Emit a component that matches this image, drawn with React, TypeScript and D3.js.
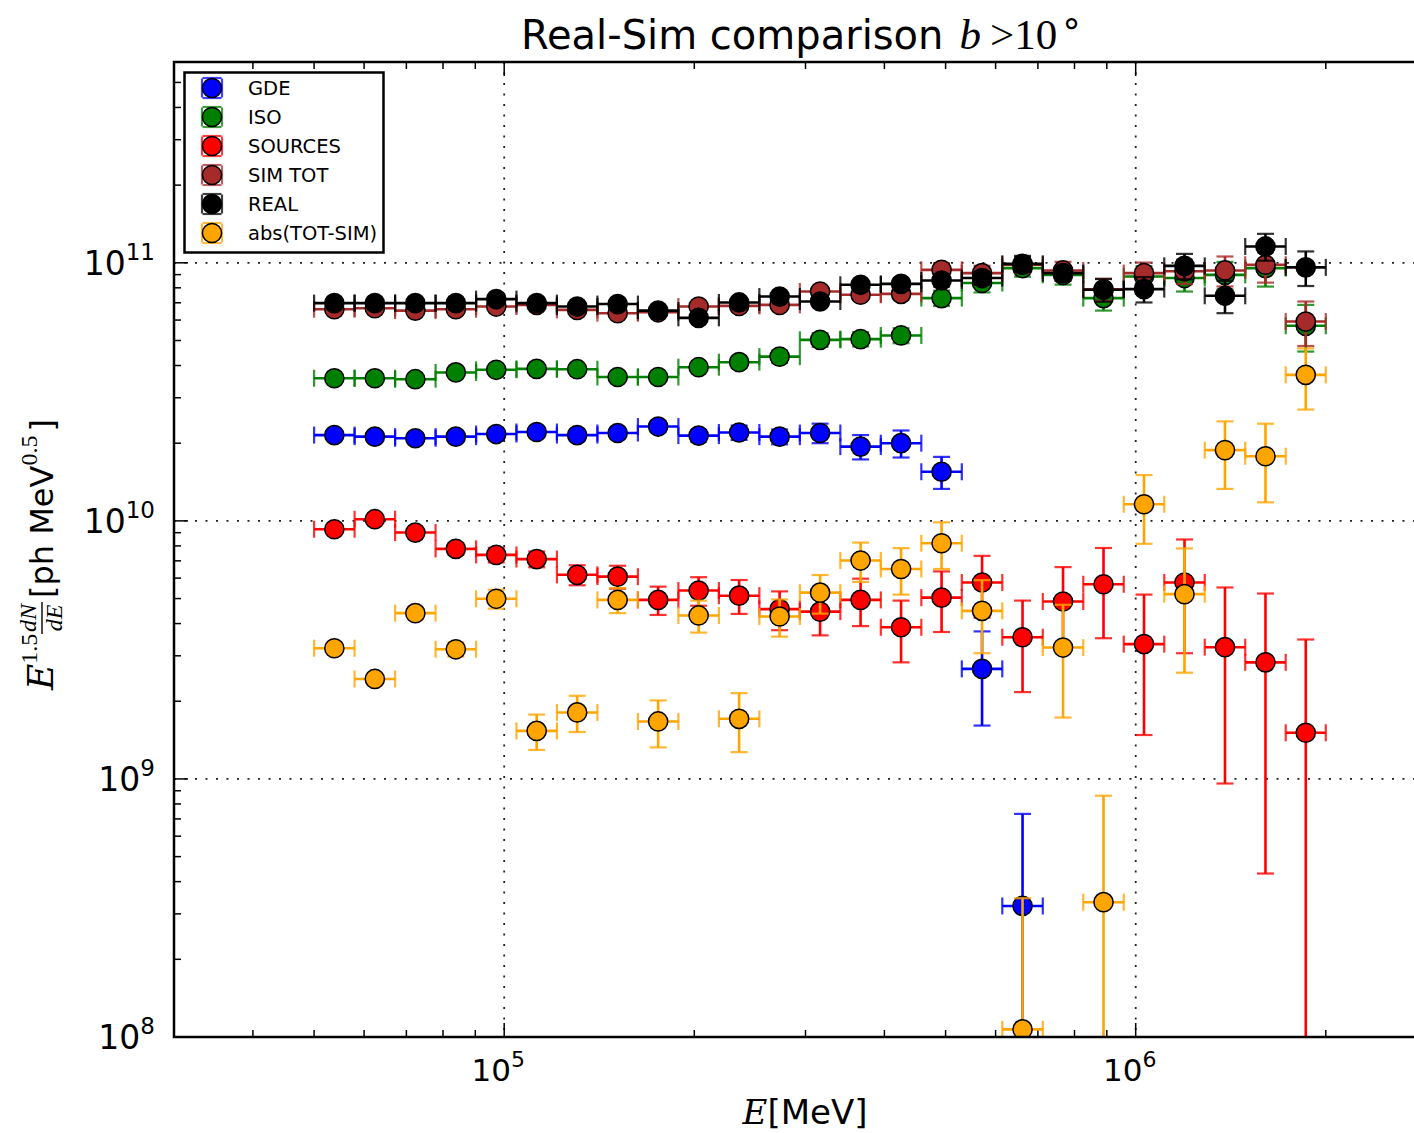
import React from "react";
import * as d3 from "d3";

// Energy bin edges [MeV]: 25 logarithmic bins between 50 GeV and 2 TeV
const BIN_EDGES = [
  50000, 57955, 67177, 77866, 90255, 104563, 121200, 140478, 162824, 188727,
  218752, 253550, 293887, 340641, 394833, 457643, 530447, 614834, 712645,
  826014, 957420, 1109730, 1286270, 1490900, 1728070, 2000000,
];

// E^1.5 dN/dE [ph MeV^0.5] per bin, with symmetric 1-sigma errors
const GDE_FLUX = [
  2.15e10, 2.12e10, 2.09e10, 2.12e10, 2.17e10, 2.21e10, 2.15e10, 2.19e10,
  2.32e10, 2.14e10, 2.2e10, 2.12e10, 2.19e10, 1.94e10, 2.0e10, 1.55e10,
  2.67e9, 3.22e8,
];
const GDE_ERR = [
  0.9e9, 0.9e9, 0.9e9, 0.9e9, 1.0e9, 1.0e9, 1.0e9, 1.0e9, 1.1e9, 1.1e9,
  1.4e9, 1.4e9, 1.9e9, 2.1e9, 2.4e9, 2.2e9, 1.06e9, 4.1e8,
];

const ISO_FLUX = [
  3.57e10, 3.57e10, 3.54e10, 3.76e10, 3.85e10, 3.88e10, 3.87e10, 3.61e10,
  3.61e10, 3.94e10, 4.12e10, 4.33e10, 5.03e10, 5.06e10, 5.23e10, 7.3e10,
  8.35e10, 9.54e10, 8.98e10, 7.3e10, 8.85e10, 8.73e10, 8.98e10, 9.54e10,
  5.7e10,
];
const ISO_ERR = [
  0.7e9, 0.7e9, 0.7e9, 0.8e9, 0.8e9, 0.9e9, 0.9e9, 0.9e9, 1.0e9, 1.1e9,
  2.0e9, 2.4e9, 3.0e9, 3.2e9, 3.5e9, 5.0e9, 6.7e9, 7.0e9, 7.5e9, 7.7e9,
  8.5e9, 9.9e9, 1.1e10, 1.45e10, 1.17e10,
];

const SOURCES_FLUX = [
  9.28e9, 1.015e10, 9.01e9, 7.79e9, 7.38e9, 7.11e9, 6.18e9, 6.08e9, 4.94e9,
  5.37e9, 5.13e9, 4.55e9, 4.45e9, 4.94e9, 3.87e9, 5.04e9, 5.77e9, 3.54e9,
  4.87e9, 5.68e9, 3.33e9, 5.77e9, 3.24e9, 2.83e9, 1.51e9,
];
const SOURCES_ERR = [
  0.3e9, 0.33e9, 0.33e9, 0.4e9, 0.48e9, 0.5e9, 0.55e9, 0.62e9, 0.62e9,
  0.68e9, 0.77e9, 0.78e9, 0.85e9, 1.03e9, 1.04e9, 1.33e9, 1.55e9, 1.37e9,
  1.75e9, 2.17e9, 1.85e9, 2.7e9, 2.28e9, 2.4e9, 1.96e9,
];

const SIMTOT_FLUX = [
  6.61e10, 6.67e10, 6.53e10, 6.61e10, 6.77e10, 6.87e10, 6.57e10, 6.38e10,
  6.43e10, 6.77e10, 6.81e10, 6.87e10, 7.74e10, 7.52e10, 7.58e10, 9.39e10,
  9.12e10, 9.83e10, 9.34e10, 7.9e10, 9.12e10, 9.28e10, 9.34e10, 9.83e10,
  5.92e10,
];
const SIMTOT_ERR = [
  1.3e9, 1.3e9, 1.3e9, 1.3e9, 1.4e9, 1.4e9, 1.4e9, 1.4e9, 1.5e9, 1.6e9,
  2.0e9, 2.4e9, 3.0e9, 3.3e9, 3.6e9, 5.8e9, 6.2e9, 7.0e9, 7.5e9, 7.8e9,
  9.0e9, 1.0e10, 1.24e10, 1.45e10, 1.16e10,
];

const REAL_FLUX = [
  6.98e10, 6.98e10, 6.98e10, 6.98e10, 7.23e10, 6.98e10, 6.77e10, 6.92e10,
  6.53e10, 6.12e10, 7.02e10, 7.4e10, 7.08e10, 8.22e10, 8.29e10, 8.54e10,
  8.73e10, 9.91e10, 9.12e10, 7.86e10, 7.91e10, 9.73e10, 7.45e10, 1.157e11,
  9.6e10,
];
const REAL_ERR = [
  1.5e9, 1.5e9, 1.5e9, 1.6e9, 1.7e9, 1.7e9, 1.8e9, 1.9e9, 2.0e9, 2.1e9,
  2.5e9, 2.8e9, 3.0e9, 3.5e9, 3.8e9, 4.5e9, 5.0e9, 7.3e9, 6.0e9, 7.9e9,
  8.9e9, 1.1e10, 1.07e10, 1.38e10, 1.47e10,
];

const DIFF_FLUX = [
  3.21e9, 2.44e9, 4.39e9, 3.18e9, 4.99e9, 1.535e9, 1.81e9, 4.94e9, 1.67e9,
  4.3e9, 1.71e9, 4.26e9, 5.27e9, 7.02e9, 6.51e9, 8.19e9, 4.48e9, 1.07e8,
  3.23e9, 3.33e8, 1.16e10, 5.2e9, 1.88e10, 1.78e10, 3.68e10,
];
const DIFF_ERR = [
  0.15e9, 0.12e9, 0.22e9, 0.2e9, 0.42e9, 0.24e9, 0.29e9, 0.55e9, 0.345e9,
  0.61e9, 0.44e9, 0.7e9, 0.9e9, 1.22e9, 1.33e9, 1.68e9, 1.41e9, 2.38e8,
  1.5e9, 5.28e8, 3.45e9, 2.62e9, 5.5e9, 6.0e9, 9.8e9,
];

const SERIES_NAMES = ["GDE", "ISO", "SOURCES", "SIM TOT", "REAL", "abs(TOT-SIM)"];
const SERIES_COLORS = ["#0000ff", "#008000", "#ff0000", "#a52a2a", "#000000", "#ffa500"];
const SERIES_VALUES = [GDE_FLUX, ISO_FLUX, SOURCES_FLUX, SIMTOT_FLUX, REAL_FLUX, DIFF_FLUX];
const SERIES_ERRORS = [GDE_ERR, ISO_ERR, SOURCES_ERR, SIMTOT_ERR, REAL_ERR, DIFF_ERR];

const X_MAJOR = [1e5, 1e6];
const X_MAJOR_EXP = ["5", "6"];
const Y_MAJOR = [1e8, 1e9, 1e10, 1e11];
const Y_MAJOR_EXP = ["8", "9", "10", "11"];

export default function App() {
  const W = 1414;
  const H = 1133;
  const L = 174;
  const T = 62;
  const R = 1437;
  const B = 1037;
  const x = d3.scaleLog().domain([3e4, 3e6]).range([L, R]);
  const y = d3.scaleLog().domain([1e8, 6e11]).range([B, T]);
  const CAP = 8.5;
  const MARK_R = 9.6;

  const series = SERIES_NAMES.map((name, k) => ({
    name,
    color: SERIES_COLORS[k],
    values: SERIES_VALUES[k],
    errors: SERIES_ERRORS[k],
  }));

  const yMinor: number[] = [];
  for (let e = 8; e <= 11; e++) {
    for (let m = 2; m <= 9; m++) {
      const v = m * Math.pow(10, e);
      if (v < 6e11) yMinor.push(v);
    }
  }
  const xMinor: number[] = [];
  for (let e = 4; e <= 6; e++) {
    for (let m = 2; m <= 9; m++) {
      const v = m * Math.pow(10, e);
      if (v > 3e4 && v < 3e6) xMinor.push(v);
    }
  }

  const tickStroke = { stroke: "#000", strokeWidth: 1.5 };
  const gridStyle = { stroke: "#222", strokeWidth: 1.8, strokeDasharray: "2,8.5" };

  return (
    <svg
      width={W}
      height={H}
      style={{ position: "absolute", left: 0, top: 0, background: "#fff" }}
      xmlns="http://www.w3.org/2000/svg"
    >
      <defs>
        <clipPath id="plot-area">
          <rect x={L} y={T} width={R - L} height={B - T} />
        </clipPath>
      </defs>
      <rect x={0} y={0} width={W} height={H} fill="#fff" />

      {/* grid */}
      {X_MAJOR.map((v) => (
        <line key={"gx" + v} x1={x(v)} x2={x(v)} y1={T} y2={B} {...gridStyle} />
      ))}
      {Y_MAJOR.slice(1).map((v) => (
        <line key={"gy" + v} x1={L} x2={R} y1={y(v)} y2={y(v)} {...gridStyle} />
      ))}

      {/* ticks (inside, on left / bottom / top) */}
      {Y_MAJOR.map((v) => (
        <line key={"ty" + v} x1={L} x2={L + 14} y1={y(v)} y2={y(v)} {...tickStroke} />
      ))}
      {yMinor.map((v) => (
        <line key={"tym" + v} x1={L} x2={L + 7} y1={y(v)} y2={y(v)} {...tickStroke} />
      ))}
      {X_MAJOR.map((v) => (
        <g key={"tx" + v}>
          <line x1={x(v)} x2={x(v)} y1={B} y2={B - 14} {...tickStroke} />
          <line x1={x(v)} x2={x(v)} y1={T} y2={T + 14} {...tickStroke} />
        </g>
      ))}
      {xMinor.map((v) => (
        <g key={"txm" + v}>
          <line x1={x(v)} x2={x(v)} y1={B} y2={B - 7} {...tickStroke} />
          <line x1={x(v)} x2={x(v)} y1={T} y2={T + 7} {...tickStroke} />
        </g>
      ))}

      {/* data */}
      <g clipPath="url(#plot-area)">
        {series.map((s) => (
          <g key={s.name}>
            {s.values.map((v, i) => {
              const lo = BIN_EDGES[i];
              const hi = BIN_EDGES[i + 1];
              const cx = x(Math.sqrt(lo * hi));
              const cy = y(v);
              const err = s.errors[i];
              const yTop = y(v + err);
              const lowOk = v - err > 0;
              const yBot = lowOk ? y(v - err) : B + 40;
              return (
                <g key={i}>
                  <line x1={x(lo)} x2={x(hi)} y1={cy} y2={cy} stroke={s.color} strokeWidth={2.6} />
                  <line x1={cx} x2={cx} y1={yTop} y2={yBot} stroke={s.color} strokeWidth={2.6} />
                  <g stroke={s.color} strokeWidth={2.2} opacity={0.8}>
                    <line x1={x(lo)} x2={x(lo)} y1={cy - CAP} y2={cy + CAP} />
                    <line x1={x(hi)} x2={x(hi)} y1={cy - CAP} y2={cy + CAP} />
                    <line x1={cx - CAP} x2={cx + CAP} y1={yTop} y2={yTop} />
                    {lowOk && <line x1={cx - CAP} x2={cx + CAP} y1={yBot} y2={yBot} />}
                  </g>
                  <circle cx={cx} cy={cy} r={MARK_R} fill={s.color} stroke="#000" strokeWidth={1.5} />
                </g>
              );
            })}
          </g>
        ))}
      </g>

      {/* axes frame */}
      <rect x={L} y={T} width={R - L} height={B - T} fill="none" stroke="#000" strokeWidth={2.5} />

      {/* tick labels */}
      {Y_MAJOR.map((v, k) => (
        <text
          key={"ly" + v}
          x={155}
          y={y(v) + 12}
          textAnchor="end"
          fontFamily="DejaVu Sans"
          fontSize={33}
          fill="#000"
        >
          10
          <tspan dy={-15} fontSize={23}>
            {Y_MAJOR_EXP[k]}
          </tspan>
        </text>
      ))}
      {X_MAJOR.map((v, k) => (
        <text
          key={"lx" + v}
          x={x(v) - 6}
          y={1081}
          textAnchor="middle"
          fontFamily="DejaVu Sans"
          fontSize={31}
          fill="#000"
        >
          10
          <tspan dy={-14} fontSize={22}>
            {X_MAJOR_EXP[k]}
          </tspan>
        </text>
      ))}

      {/* title */}
      <text x={521} y={49} fontFamily="DejaVu Sans" fontSize={40} fill="#000">
        Real-Sim comparison
        <tspan dx={16} fontFamily="Liberation Serif" fontStyle="italic" fontSize={43}>
          b
        </tspan>
        <tspan dx={9} fontFamily="Liberation Serif" fontSize={43}>
          &gt;10
        </tspan>
        <tspan dx={3} dy={-14} fontFamily="DejaVu Sans" fontSize={36}>
          ∘
        </tspan>
      </text>

      {/* x axis label */}
      <text x={805} y={1124} textAnchor="middle" fill="#000">
        <tspan fontFamily="DejaVu Serif" fontStyle="italic" fontSize={34}>
          E
        </tspan>
        <tspan fontFamily="DejaVu Sans" fontSize={34}>
          [MeV]
        </tspan>
      </text>

      {/* y axis label, rotated */}
      <g transform="translate(53,550) rotate(-90)" fill="#000">
        <text x={-140} y={0}>
          <tspan fontFamily="DejaVu Serif" fontStyle="italic" fontSize={36}>
            E
          </tspan>
          <tspan dy={-16} fontFamily="Liberation Serif" fontSize={24}>
            1.5
          </tspan>
        </text>
        <text x={-68} y={-17} textAnchor="middle" fontFamily="Liberation Serif" fontStyle="italic" fontSize={24}>
          dN
        </text>
        <line x1={-84} x2={-52} y1={-11} y2={-11} stroke="#000" strokeWidth={1.4} />
        <text x={-68} y={9} textAnchor="middle" fontFamily="Liberation Serif" fontStyle="italic" fontSize={24}>
          dE
        </text>
        <text x={-48} y={0}>
          <tspan fontFamily="DejaVu Sans" fontSize={32}>
            [ph MeV
          </tspan>
          <tspan dy={-16} fontFamily="Liberation Serif" fontSize={24}>
            0.5
          </tspan>
          <tspan dx={4} dy={16} fontFamily="DejaVu Sans" fontSize={32}>
            ]
          </tspan>
        </text>
      </g>

      {/* legend */}
      <rect x={184.5} y={72.5} width={199} height={180} fill="#fff" stroke="#000" strokeWidth={2.5} />
      {series.map((s, k) => {
        const cy = 88 + 29 * k;
        const cx = 212;
        return (
          <g key={"leg" + s.name}>
            <g stroke={s.color} strokeWidth={2.2} opacity={0.75}>
              <line x1={cx - 10} x2={cx - 10} y1={cy - 9.5} y2={cy + 9.5} />
              <line x1={cx + 10} x2={cx + 10} y1={cy - 9.5} y2={cy + 9.5} />
              <line x1={cx - 9.5} x2={cx + 9.5} y1={cy - 10} y2={cy - 10} />
              <line x1={cx - 9.5} x2={cx + 9.5} y1={cy + 10} y2={cy + 10} />
            </g>
            <circle cx={cx} cy={cy} r={MARK_R} fill={s.color} stroke="#000" strokeWidth={1.5} />
            <text x={248} y={cy + 7} fontFamily="DejaVu Sans" fontSize={19.5} fill="#000">
              {s.name}
            </text>
          </g>
        );
      })}
    </svg>
  );
}
